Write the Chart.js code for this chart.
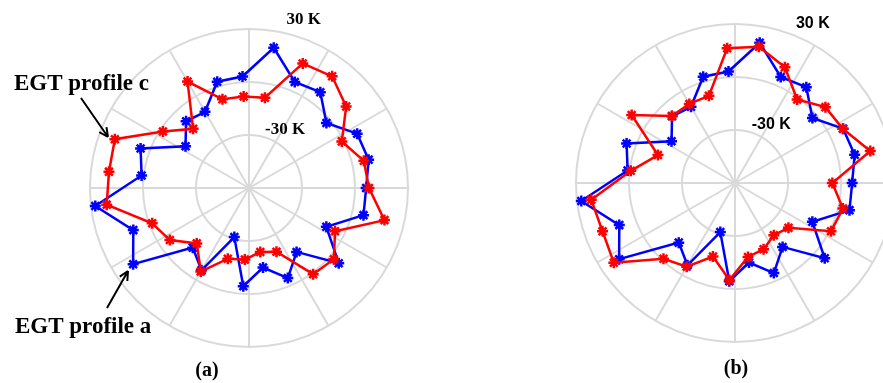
<!DOCTYPE html>
<html>
<head>
<meta charset="utf-8">
<script src="https://cdn.jsdelivr.net/npm/chart.js@4.4.0/dist/chart.umd.min.js"></script>
<style>
    html, body { margin: 0; padding: 0; background: #fff; overflow: hidden; }
    #page { position: relative; width: 883px; height: 383px; overflow: hidden; }
    #chartA { position: absolute; left: 0; top: 0; }
    #chartB { position: absolute; left: 440px; top: 0; }
    .caption {
        position: absolute;
        transform: translate(-50%, -50%);
        font: bold 20px "Liberation Serif", serif;
        color: #000;
    }
</style>
</head>
<body>
<div id="page">
    <canvas id="chartA" width="440" height="383"></canvas>
    <canvas id="chartB" width="460" height="383"></canvas>
    <div class="caption" style="left: 207px; top: 369px;">(a)</div>
    <div class="caption" style="left: 736px; top: 367px;">(b)</div>
</div>
<script>
// EGT deviation (K) at the 27 probe positions,
// listed clockwise starting from 3 o'clock
const probeCount = 27;
const egtProfileA = [6.3, 6.6, -11.0, 6.3, -14.9, -4.5, -14.3, -4.3, -31.0, -6.2, -13.6, 18.5, 9.7, 27.6,
    1.2, 5.3, -17.0, -8.1, -10.2, 2.8, 3.2, 20.6, 5.4, 7.6, -2.8, 8.5, 9.6];
const egtProfileC = [7.9, 18.8, -5.5, 2.7, 0.8, -20.7, -23.2, -19.4, -18.2, -5.4, -16.9, -6.4, -1.7, 21.1,
    19.8, 20.8, -1.7, -13.9, 9.6, -7.6, -8.1, -8.1, 16.8, 18.8, 11.8, -1.2, 6.8];
const egtProfileCTurned = [-4.9, 2.8, 0.8, -20.5, -23.2, -19.2, -17.5, -5.0, -16.5, -5.3, -1.0, 22.1, 19.8, 21.9,
    -0.6, -13.6, 10.0, -7.9, -8.3, -8.5, 16.4, 18.3, 11.3, -1.1, 6.8, 8.3, 18.7];

// radial axis (K): centre at -60, rings every 30
const radialMin = -60;
const radialMax = 30;
const radialStep = 30;
const tickValues = [-30, 30];
const tickLabels = ['-30 K', '30 K'];

// 12 spokes and 27 probes share a 108 slot angular grid
const spokeCount = 12;
const slotCount = 108;
const probeStride = slotCount / probeCount;
const spokeStride = slotCount / spokeCount;

function spread(values) {
    const out = new Array(slotCount).fill(null);
    values.forEach((v, i) => { out[i * probeStride] = v; });
    return out;
}

// ring value labels, placed just outside their ring
const ringLabels = {
    id: 'ringLabels',
    afterDatasetsDraw(chart, args, opts) {
        const r = chart.scales.r;
        const ctx = chart.ctx;
        ctx.save();
        ctx.font = opts.font;
        ctx.fillStyle = '#000';
        ctx.textAlign = 'center';
        ctx.textBaseline = 'middle';
        tickValues.forEach((v, i) => {
            const d = r.getDistanceFromCenterForValue(v) + opts.gap[i];
            const a = opts.angle[i] * Math.PI / 180;
            ctx.fillText(tickLabels[i], r.xCenter + d * Math.cos(a), r.yCenter - d * Math.sin(a));
        });
        ctx.restore();
    }
};

// "EGT profile" callouts with arrows
const profileNotes = {
    id: 'profileNotes',
    afterDraw(chart, args, opts) {
        if (!opts.notes) return;
        const ctx = chart.ctx;
        ctx.save();
        ctx.font = 'bold 23px "Liberation Serif", serif';
        ctx.fillStyle = '#000';
        ctx.strokeStyle = '#000';
        ctx.lineWidth = 2;
        ctx.textBaseline = 'alphabetic';
        opts.notes.forEach(n => {
            ctx.fillText(n.text, n.x, n.y);
            const ang = Math.atan2(n.to[1] - n.from[1], n.to[0] - n.from[0]);
            ctx.beginPath();
            ctx.moveTo(n.from[0], n.from[1]);
            ctx.lineTo(n.to[0], n.to[1]);
            [0.45, -0.45].forEach(da => {
                ctx.moveTo(n.to[0], n.to[1]);
                ctx.lineTo(n.to[0] - 10 * Math.cos(ang + da), n.to[1] - 10 * Math.sin(ang + da));
            });
            ctx.stroke();
        });
        ctx.restore();
    }
};

function seriesStyle(color) {
    return {
        borderColor: color,
        backgroundColor: color,
        pointBorderColor: color,
        pointBackgroundColor: color,
        pointStyle: 'star',
        pointRadius: 5.5,
        pointBorderWidth: 2.5,
        borderWidth: 2.5,
        fill: false,
        tension: 0,
        spanGaps: true
    };
}

function makeRadar(canvasId, red, blue, padding, ringOpts, notes) {
    const labels = Array.from({ length: slotCount }, (_, i) => i);
    return new Chart(document.getElementById(canvasId), {
        type: 'radar',
        data: {
            labels: labels,
            datasets: [
                // first dataset is painted on top
                { label: 'EGT profile c', data: spread(red), ...seriesStyle('#ff0000') },
                { label: 'EGT profile a', data: spread(blue), ...seriesStyle('#0000ff') }
            ]
        },
        options: {
            responsive: false,
            animation: false,
            layout: { padding: padding },
            plugins: {
                legend: { display: false },
                tooltip: { enabled: false },
                ringLabels: ringOpts,
                profileNotes: { notes: notes }
            },
            scales: {
                r: {
                    min: radialMin,
                    max: radialMax,
                    startAngle: 90,
                    ticks: { stepSize: radialStep, display: false },
                    pointLabels: { display: false },
                    grid: { circular: true, color: '#d9d9d9', lineWidth: 2 },
                    angleLines: {
                        color: '#d9d9d9',
                        lineWidth: (ctx) => (ctx.index % spokeStride === 0 ? 2 : 0)
                    }
                }
            }
        },
        plugins: [ringLabels, profileNotes]
    });
}

makeRadar('chartA', egtProfileC, egtProfileA,
    { left: 90, right: 32, top: 29, bottom: 36 },
    { font: 'bold 17px "Liberation Serif", serif', angle: [58.5, 72], gap: [16, 18] },
    [
        { text: 'EGT profile c', x: 14, y: 90, from: [81, 98], to: [108, 137] },
        { text: 'EGT profile a', x: 15, y: 333, from: [107, 308], to: [128, 271] }
    ]);

makeRadar('chartB', egtProfileCTurned, egtProfileA,
    { left: 136, right: 6, top: 24, bottom: 41 },
    { font: 'bold 16px "Liberation Sans", sans-serif', angle: [58.3, 63.9], gap: [16, 18] },
    null);
</script>
</body>
</html>
